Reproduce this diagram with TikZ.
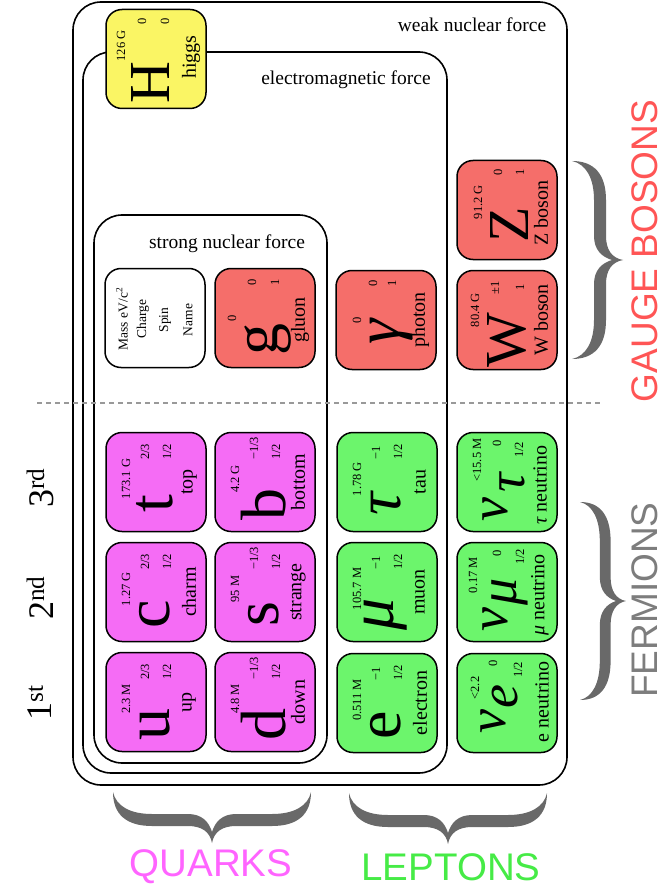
\documentclass[tikz,border=0pt]{standalone}
\usepackage{fontspec}
\setmainfont{Liberation Serif}
\newfontfamily\sansf{Liberation Sans}
\definecolor{qcol}{RGB}{245,108,245}
\definecolor{lcol}{RGB}{108,245,108}
\definecolor{bcol}{RGB}{245,110,106}
\definecolor{hcol}{RGB}{250,245,100}
\definecolor{qtxt}{RGB}{255,100,255}
\definecolor{ltxt}{RGB}{70,235,70}
\definecolor{btxt}{RGB}{255,85,85}
\definecolor{ftxt}{RGB}{125,125,125}
\definecolor{brc}{RGB}{105,105,105}
\tikzset{
  pbox/.style={draw, line width=1.5pt, rounded corners=16pt, minimum width=100pt, minimum height=99pt, inner sep=0pt},
  forcebox/.style={draw, line width=1.6pt, rounded corners=28pt},
  small/.style={rotate=90, inner sep=0pt, font=\fontsize{12.5}{13}\selectfont},
  smallw/.style={small, anchor=west},
  legend/.style={rotate=90, inner sep=0pt, font=\fontsize{13.5}{14}\selectfont},
  sym/.style={rotate=90, inner sep=0pt, font=\fontsize{64}{64}\selectfont},
  symcap/.style={rotate=90, inner sep=0pt, font=\fontsize{58}{58}\selectfont},
  symsub/.style={rotate=90, inner sep=0pt, font=\itshape\fontsize{54}{54}\selectfont},
  pname/.style={rotate=90, inner sep=0pt, font=\fontsize{20}{20}\selectfont},
  forcelab/.style={inner sep=0pt, font=\fontsize{19.5}{20}\selectfont},
  gen/.style={rotate=90, inner sep=0pt, font=\fontsize{36}{38}\selectfont},
  biglab/.style={inner sep=0pt, font=\sansf\fontsize{38.5}{40}\selectfont},
  sidelab/.style={inner sep=0pt, rotate=90, font=\sansf\fontsize{37}{38}\selectfont},
  bigbrace/.pic={\fill[brc] (-99,0) .. controls (-96,14) and (-82,22) .. (-60,22) -- (-24,22) .. controls (-10,22) and (-3,30) .. (0,40) .. controls (3,30) and (10,22) .. (24,22) -- (60,22) .. controls (82,22) and (96,14) .. (99,0) .. controls (99,22) and (86,34) .. (60,34) -- (24,34) .. controls (10,34) and (2,40) .. (0,51) .. controls (-2,40) and (-10,34) .. (-24,34) -- (-60,34) .. controls (-86,34) and (-99,22) .. (-99,0) -- cycle;},
}
\newcommand\lab[6]{\node[#5] (#1-#2) at ([shift={(#3,#4)}]#1.center) {#6};}
\newcommand\pbx[4]{\node[pbox, fill=#4] (#1) at (#2,#3) {};}
\newcommand\stdparticle[9]{%
  \pbx{#1}{#2}{#3}{#4}%
  \lab{#1}{m}{-30}{-3}{small}{#6}%
  \lab{#1}{q}{-11}{-22}{smallw}{#7}%
  \lab{#1}{s}{11}{-22}{smallw}{#8}%
  \lab{#1}{x}{-1}{22}{sym}{#5}%
  \lab{#1}{n}{33}{0}{pname}{#9}%
}
\begin{document}
\begin{tikzpicture}[x=1pt, y=-1pt]
\useasboundingbox (0,0) rectangle (666,893);
\fill[white] (0,0) rectangle (666,893);
% force boxes
\draw[forcebox] (73,2) rectangle (567,785);
\draw[forcebox] (83,52) rectangle (447,773);
\draw[forcebox] (94,215) rectangle (327,763);
\node[forcelab] (weaklab) at (472,25) {weak nuclear force};
\node[forcelab] (emlab) at (346,80) {electromagnetic force};
\node[forcelab] (stronglab) at (227,244) {strong nuclear force};
% separator
\coordinate (dl) at (37,403);
\coordinate (dr) at (600,403);
\draw[gray!80, line width=1.5pt, dash pattern=on 5pt off 4pt] (dl) -- (dr);
% quarks
\stdparticle{u}{156}{702}{qcol}{u}{2.3 M}{2/3}{1/2}{up}
\stdparticle{d}{265}{702}{qcol}{d}{4.8 M}{−1/3}{1/2}{down}
\stdparticle{c}{156}{592}{qcol}{c}{1.27 G}{2/3}{1/2}{charm}
\stdparticle{s}{265}{592}{qcol}{s}{95 M}{−1/3}{1/2}{strange}
\stdparticle{t}{156}{482}{qcol}{t}{173.1 G}{2/3}{1/2}{top}
\stdparticle{b}{265}{482}{qcol}{b}{4.2 G}{−1/3}{1/2}{bottom}
% leptons
\stdparticle{e}{387}{703}{lcol}{e}{0.511 M}{−1}{1/2}{electron}
\stdparticle{mu}{387}{592}{lcol}{\itshape μ}{105.7 M}{−1}{1/2}{muon}
\stdparticle{tau}{387}{482}{lcol}{\itshape τ}{1.78 G}{−1}{1/2}{tau}
% neutrinos
\pbx{nt}{507}{482}{lcol}
\lab{nt}{m}{-30}{-22}{small}{<15.5 M}
\lab{nt}{q}{-10}{-39}{small}{0}
\lab{nt}{s}{12}{-32}{small}{1/2}
\lab{nt}{x}{-12}{28}{symsub}{ν}
\lab{nt}{y}{5}{1}{symsub}{τ}
\lab{nt}{n}{33}{3}{pname}{{\itshape τ} neutrino}
\pbx{nm}{507}{592}{lcol}
\lab{nm}{m}{-34}{-17}{small}{0.17 M}
\lab{nm}{q}{-10}{-39}{small}{0}
\lab{nm}{s}{13}{-35}{small}{1/2}
\lab{nm}{x}{-12}{28}{symsub}{ν}
\lab{nm}{y}{3}{0}{symsub}{μ}
\lab{nm}{n}{33}{3}{pname}{{\itshape μ} neutrino}
\pbx{ne}{507}{703}{lcol}
\lab{ne}{m}{-32}{-15}{small}{<2.2}
\lab{ne}{q}{-14}{-40}{small}{0}
\lab{ne}{s}{11}{-33}{small}{1/2}
\lab{ne}{x}{-14}{19}{symsub}{ν}
\lab{ne}{y}{-2}{-6}{symsub}{e}
\lab{ne}{n}{35}{-1}{pname}{e neutrino}
% legend
\pbx{leg}{155}{318}{white}
\lab{leg}{m}{-33}{1}{legend}{Mass eV/c\textsuperscript{2}}
\lab{leg}{q}{-12}{1}{legend}{Charge}
\lab{leg}{s}{10}{2}{legend}{Spin}
\lab{leg}{n}{33}{2}{legend}{Name}
% gluon
\pbx{g}{265}{318}{bcol}
\lab{g}{m}{-33}{0}{small}{0}
\lab{g}{q}{-13}{-36}{small}{0}
\lab{g}{s}{10}{-36}{small}{1}
\lab{g}{x}{3}{21}{sym}{g}
\lab{g}{n}{35}{2}{pname}{gluon}
% photon
\pbx{ph}{386}{320}{bcol}
\lab{ph}{m}{-29}{0}{small}{0}
\lab{ph}{q}{-13}{-37}{small}{0}
\lab{ph}{s}{6}{-37}{small}{1}
\lab{ph}{x}{6}{12}{sym}{\itshape γ}
\lab{ph}{n}{34}{0}{pname}{photon}
% Z
\pbx{Z}{507}{210}{bcol}
\lab{Z}{m}{-29}{-8}{small}{91.2 G}
\lab{Z}{q}{-9}{-38}{small}{0}
\lab{Z}{s}{13}{-38}{small}{1}
\lab{Z}{x}{3}{15}{symcap}{Z}
\lab{Z}{n}{34}{3}{pname}{Z boson}
% W
\pbx{W}{507}{320}{bcol}
\lab{W}{m}{-32}{-10}{small}{80.4 G}
\lab{W}{q}{-12}{-32}{small}{±1}
\lab{W}{s}{13}{-33}{small}{1}
\lab{W}{x}{0}{20}{symcap}{W}
\lab{W}{n}{34}{0}{pname}{W boson}
% Higgs
\pbx{H}{156}{59}{hcol}
\lab{H}{m}{-35}{-13}{small}{126 G}
\lab{H}{q}{-14}{-38}{small}{0}
\lab{H}{s}{9}{-38}{small}{0}
\lab{H}{x}{-5}{24}{symcap}{H}
\lab{H}{n}{35}{-2}{pname}{higgs}
% generations
\node[gen] (g3) at (40,488) {3\textsuperscript{rd}};
\node[gen] (g2) at (40,598) {2\textsuperscript{nd}};
\node[gen] (g1) at (40,703) {1\textsuperscript{st}};
% braces
\pic[rotate=90] (gbr) at (572,260) {bigbrace};
\pic[rotate=90, yscale=0.9] (fbr) at (580,601) {bigbrace};
\pic (qbr) at (212,792) {bigbrace};
\pic (lbr) at (448,793) {bigbrace};
% group labels
\node[sidelab, text=btxt] (gb) at (645,251) {GAUGE BOSONS};
\node[sidelab, text=ftxt] (fe) at (645,600) {FERMIONS};
\node[biglab, text=qtxt] (qu) at (211,867) {QUARKS};
\node[biglab, text=ltxt] (le) at (451,867) {LEPTONS};
\end{tikzpicture}
\end{document}
